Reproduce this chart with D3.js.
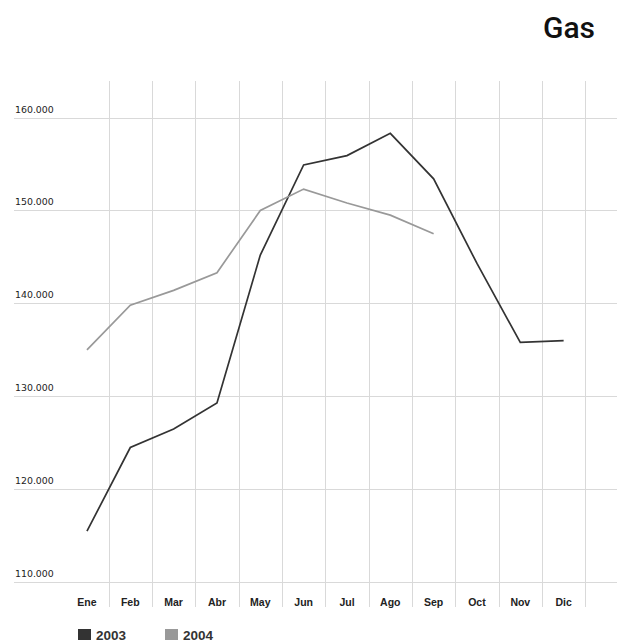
<!DOCTYPE html>
<html>
<head>
<meta charset="utf-8">
<script src="https://cdn.jsdelivr.net/npm/d3@7"></script>
<style>
  html, body { margin: 0; padding: 0; background: #fff; }
  svg { display: block; }
</style>
</head>
<body>
<svg id="chart" width="622" height="642"></svg>
<script>
const months = ["Ene","Feb","Mar","Abr","May","Jun","Jul","Ago","Sep","Oct","Nov","Dic"];
const values2003 = [115500,124500,126500,129300,145200,154900,155900,158300,153400,144300,135800,136000];
const values2004 = [135000,139800,141400,143300,150000,152300,150800,149500,147500];
const yTicks = [110000,120000,130000,140000,150000,160000];
const seriesNames = ["2003","2004"];
const seriesColors = ["#333333","#999999"];
const title = "Gas";

const svg = d3.select("#chart");

const x = d3.scaleBand().domain(months).range([65.3, 585.3]);
const y = d3.scaleLinear().domain([110000, 160000]).range([582.3, 117.5]);
const fmt = v => d3.format(",")(v).replace(/,/g, ".");

// horizontal grid
svg.append("g").selectAll("line").data(yTicks).join("line")
  .attr("x1", 14).attr("x2", 617)
  .attr("y1", d => Math.round(y(d)) + 0.5).attr("y2", d => Math.round(y(d)) + 0.5)
  .attr("stroke", "#d9d9d9").attr("stroke-width", 1);

// vertical grid at band right edges
svg.append("g").selectAll("line").data(months).join("line")
  .attr("x1", d => Math.round(x(d) + x.bandwidth()) + 0.5)
  .attr("x2", d => Math.round(x(d) + x.bandwidth()) + 0.5)
  .attr("y1", 81).attr("y2", 607)
  .attr("stroke", "#d9d9d9").attr("stroke-width", 1);

// y labels
svg.append("g").selectAll("text").data(yTicks).join("text")
  .attr("x", 15).attr("y", d => y(d) - 5)
  .attr("font-family", "DejaVu Sans, Verdana, sans-serif")
  .attr("font-size", 9.4).attr("fill", "#222")
  .text(d => fmt(d));

// x labels
svg.append("g").selectAll("text").data(months).join("text")
  .attr("x", d => x(d) + x.bandwidth() / 2).attr("y", 606)
  .attr("text-anchor", "middle")
  .attr("font-family", "Liberation Sans Narrow, Arial Narrow, Liberation Sans, sans-serif")
  .attr("font-weight", "bold")
  .attr("font-size", 10.5).attr("fill", "#222")
  .text(d => d);

// lines
const line = d3.line()
  .x((d, i) => x(months[i]) + x.bandwidth() / 2)
  .y(d => y(d));

[values2003, values2004].forEach((vals, i) => {
  svg.append("path")
    .datum(vals)
    .attr("fill", "none")
    .attr("stroke", seriesColors[i])
    .attr("stroke-width", 1.7)
    .attr("stroke-linejoin", "miter")
    .attr("d", line);
});

// title
svg.append("text")
  .attr("x", 595).attr("y", 38)
  .attr("text-anchor", "end")
  .attr("font-family", "Roboto, sans-serif")
  .attr("font-weight", 500)
  .attr("font-size", 30).attr("fill", "#111")
  .text(title);

// legend
const lg = svg.append("g").selectAll("g").data(seriesNames).join("g")
  .attr("transform", (d, i) => `translate(${78 + i * 87},629)`);
lg.append("rect").attr("width", 13).attr("height", 11)
  .attr("fill", (d, i) => seriesColors[i]);
lg.append("text").attr("x", 18).attr("y", 11)
  .attr("font-family", "Liberation Sans, Arial, sans-serif")
  .attr("font-weight", "bold").attr("font-size", 13.5)
  .attr("fill", "#333")
  .text(d => d);
</script>
</body>
</html>
